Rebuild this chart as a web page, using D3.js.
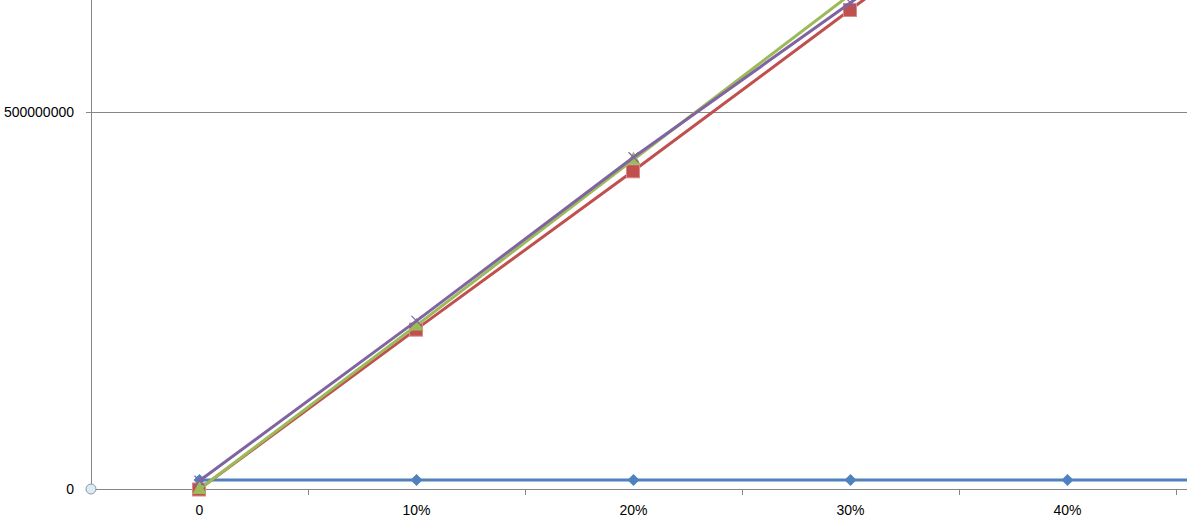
<!DOCTYPE html>
<html><head><meta charset="utf-8">
<script src="https://cdn.jsdelivr.net/npm/d3@7"></script>
<style>html,body{margin:0;padding:0;background:#fff;overflow:hidden}</style>
</head><body>
<svg id="chart" width="1187" height="529"></svg>
<script>
const categories = ["0", "10%", "20%", "30%", "40%", "50%"];
const yTicks = [0, 500000000];
const seriesNames = ["Series1", "Series2", "Series3", "Series4"];
const series1 = [12000000, 12000000, 12000000, 12000000, 12000000, 12000000];
const series2 = [0, 212000000, 422000000, 636000000, 846000000, 1058000000];
const series3 = [0, 217000000, 437000000, 656000000, 875000000, 1094000000];
const series4 = [11000000, 223000000, 440000000, 645000000, 855000000, 1065000000];
const colors = ["#4F81BD", "#C0504D", "#9BBB59", "#8064A2"];
const markers = ["diamond", "square", "triangle", "x"];

const W = 1187;
const svg = d3.select("#chart");
const x = d3.scaleBand().domain(categories).range([91, 91 + 217 * categories.length]).paddingInner(0).paddingOuter(0);
const cx = d => x(d) + x.bandwidth() / 2;
const y = d3.scaleLinear().domain([0, 500000000]).range([489, 112]);

// gridline
svg.append("g").selectAll("line").data(yTicks.filter(v => v > 0)).join("line")
  .attr("x1", 91).attr("x2", W).attr("y1", d => y(d)).attr("y2", d => y(d))
  .attr("stroke", "#868686").attr("stroke-width", 1).attr("shape-rendering", "crispEdges");

// y axis
const yAxis = d3.axisLeft(y).tickValues(yTicks).tickSize(5).tickPadding(12).tickFormat(d3.format("d"));
const gy = svg.append("g").attr("transform", "translate(91,0)").call(yAxis);
gy.select(".domain").attr("d", "M0,0V489").attr("stroke", "#868686").attr("shape-rendering", "crispEdges");
gy.selectAll(".tick line").attr("stroke", "#868686").attr("shape-rendering", "crispEdges");
gy.selectAll(".tick text").attr("font-family", "Liberation Sans, Arial, sans-serif").attr("font-size", 14).attr("fill", "#000");

// x axis
const gx = svg.append("g").attr("transform", "translate(0,489)");
gx.append("line").attr("x1", 91).attr("x2", W).attr("y1", 0).attr("y2", 0)
  .attr("stroke", "#868686").attr("shape-rendering", "crispEdges");
gx.selectAll("line.tk").data(categories.filter(d => x(d) + x.bandwidth() < W)).join("line").attr("class", "tk")
  .attr("x1", d => x(d) + x.bandwidth()).attr("x2", d => x(d) + x.bandwidth())
  .attr("y1", 0).attr("y2", 6).attr("stroke", "#868686").attr("shape-rendering", "crispEdges");
gx.selectAll("text").data(categories.filter(d => cx(d) < W - 30)).join("text")
  .attr("x", d => cx(d)).attr("y", 26).attr("text-anchor", "middle")
  .attr("font-family", "Liberation Sans, Arial, sans-serif").attr("font-size", 14).attr("fill", "#000")
  .text(d => d);

const allSeries = [series1, series2, series3, series4];
const line = d3.line().x((d, i) => cx(categories[i])).y(d => y(d));

allSeries.forEach((vals, si) => {
  const g = svg.append("g");
  g.append("path").datum(vals).attr("d", line).attr("fill", "none")
    .attr("stroke", colors[si]).attr("stroke-width", 3).attr("stroke-linejoin", "round");
  const m = markers[si];
  vals.forEach((v, i) => {
    const px = cx(categories[i]), py = y(v);
    if (m === "diamond") {
      g.append("path").attr("d", `M${px},${py - 6}L${px + 6},${py}L${px},${py + 6}L${px - 6},${py}Z`)
        .attr("fill", colors[si]);
    } else if (m === "square") {
      g.append("rect").attr("x", px - 7).attr("y", py - 6).attr("width", 13).attr("height", 13)
        .attr("fill", colors[si]).attr("stroke", "#d88a88").attr("stroke-width", 1);
    } else if (m === "triangle") {
      g.append("path").attr("d", `M${px},${py - 8}L${px + 7},${py + 5}L${px - 7},${py + 5}Z`)
        .attr("fill", colors[si]);
    } else {
      g.append("path").attr("d", `M${px - 5},${py - 5}L${px + 5},${py + 5}M${px - 5},${py + 5}L${px + 5},${py - 5}`)
        .attr("stroke", colors[si]).attr("stroke-width", 1.2);
    }
  });
});

// origin handle
svg.append("circle").attr("cx", 91).attr("cy", 489).attr("r", 5)
  .attr("fill", "#dcecf2").attr("stroke", "#8a9ca6").attr("stroke-width", 1);
</script>
</body></html>
